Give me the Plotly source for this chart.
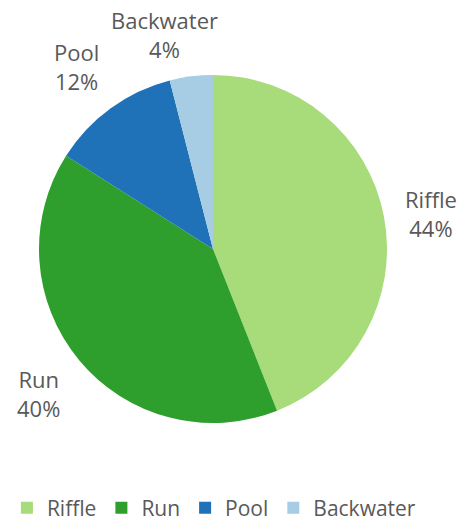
import plotly.graph_objects as go

categories = ["Riffle", "Run", "Pool", "Backwater"]
values = [44, 40, 12, 4]
colors = ["#a8db7a", "#2e9f2c", "#1f72b8", "#a6cde3"]

# layout: label centres in pixels (x, y from top-left)
label_pos = [(431, 213), (38, 393), (76, 67), (164, 34)]

W, H = 462, 522
CX, CY, R = 213, 249, 174          # pie centre / radius in pixels
FONT = "Open Sans"
TXT = "#595959"

fig = go.Figure(go.Pie(
    labels=categories,
    values=values,
    sort=False,
    direction="clockwise",
    rotation=0,
    marker=dict(colors=colors, line=dict(width=0)),
    textposition="none",
    hoverinfo="label+percent",
    domain=dict(x=[(CX - R) / W, (CX + R) / W],
                y=[1 - (CY + R) / H, 1 - (CY - R) / H]),
))

total = sum(values)
annotations = []
for lab, v, (px, py) in zip(categories, values, label_pos):
    annotations.append(dict(
        x=px / W, y=1 - py / H, xref="paper", yref="paper",
        xanchor="center", yanchor="middle", showarrow=False,
        text=f"{lab}<br>{round(v / total * 100)}%",
        font=dict(family=FONT, size=22, color=TXT),
        align="center",
    ))

fig.update_layout(
    width=W, height=H,
    margin=dict(l=0, r=0, t=0, b=0, autoexpand=False),
    paper_bgcolor="white",
    plot_bgcolor="white",
    showlegend=True,
    annotations=annotations,
    legend=dict(
        orientation="h",
        xref="container", yref="container",
        x=0.463, xanchor="center",
        y=1 - 508 / H, yanchor="middle",
        font=dict(family=FONT, size=21, color=TXT),
        itemwidth=30,
        tracegroupgap=0,
    ),
)

fig.write_html("out.html",
               config={"displayModeBar": False},
               post_script="document.body.style.margin='0';document.body.style.overflow='hidden';")
